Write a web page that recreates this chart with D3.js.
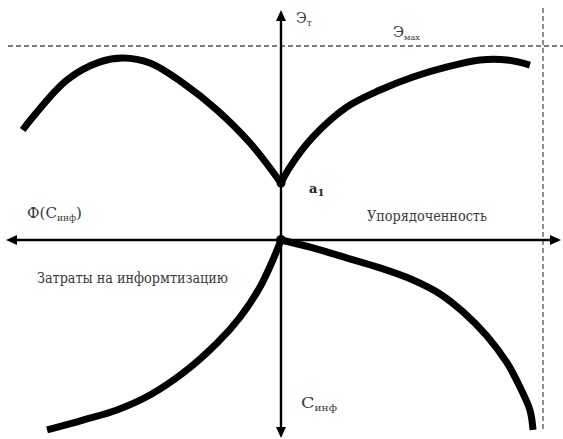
<!DOCTYPE html>
<html>
<head>
<meta charset="utf-8">
<script src="https://cdn.jsdelivr.net/npm/d3@7"></script>
<style>
  html, body { margin: 0; padding: 0; background: #fff; }
  svg { display: block; }
</style>
</head>
<body>
<svg id="chart" width="563" height="439"></svg>
<script>
// Efficiency curve, left branch (Ф(Синф)), x < 0
const effLeftX = [-9.86, -9.47, -8.17, -6.91, -6.03, -5.0, -3.74, -2.44, -1.18, 0];
const effLeftY = [5.67, 6.34, 8.25, 9.18, 9.38, 9.12, 8.09, 6.70, 5.0, 2.94];
// Efficiency curve, right branch (ordering), x > 0
const effRightX = [0, 0.34, 1.22, 2.52, 3.78, 5.04, 6.34, 7.60, 8.63, 9.50];
const effRightY = [2.94, 3.76, 5.31, 6.86, 7.73, 8.40, 8.92, 9.28, 9.28, 9.02];
// Cost curve, right branch
const costRightX = [0, 1.22, 2.52, 3.78, 5.04, 6.07, 6.95, 7.86, 8.63, 9.12, 9.50, 9.62];
const costRightY = [0, -0.41, -0.93, -1.44, -2.06, -2.78, -3.71, -4.95, -6.34, -7.58, -8.76, -9.79];
// Cost curve, left branch (informatization expenses)
const costLeftX = [-8.93, -7.56, -6.26, -5.0, -3.74, -2.44, -1.56, -0.80, -0.31, 0];
const costLeftY = [-9.79, -9.28, -8.76, -7.99, -6.86, -5.31, -3.97, -2.42, -1.03, 0];
// Reference levels
const effMax = 10;    // Эмах
const orderMax = 10;  // limit of ordering
const a1 = 2.94;      // point a1 on the vertical axis

const FONT = "'DejaVu Serif', serif";

const svg = d3.select("#chart");
const x = d3.scaleLinear().domain([-10, 10]).range([19, 543]);
const y = d3.scaleLinear().domain([-10, 10]).range([434, 46]);

const zip = (xs, ys) => xs.map((v, i) => [v, ys[i]]);
const line = d3.line().x(d => x(d[0])).y(d => y(d[1])).curve(d3.curveCatmullRom.alpha(0.5));

// dashed limits
svg.append("line")
  .attr("x1", 8).attr("x2", 563).attr("y1", y(effMax)).attr("y2", y(effMax))
  .attr("stroke", "#555").attr("stroke-width", 1.3).attr("stroke-dasharray", "5,3");
svg.append("line")
  .attr("x1", x(orderMax)).attr("x2", x(orderMax)).attr("y1", 8).attr("y2", 432)
  .attr("stroke", "#555").attr("stroke-width", 1.3).attr("stroke-dasharray", "5,3");

// axes
const ox = x(0), oy = y(0);
const axisG = svg.append("g");
axisG.append("line").attr("x1", 14).attr("x2", 554).attr("y1", oy).attr("y2", oy)
  .attr("stroke", "#000").attr("stroke-width", 2.4);
axisG.append("line").attr("x1", ox).attr("x2", ox).attr("y1", 18).attr("y2", 430)
  .attr("stroke", "#000").attr("stroke-width", 2.4);

function arrow(px, py, angle) {
  axisG.append("path")
    .attr("d", "M0,0 L-11,-5 L-11,5 Z")
    .attr("transform", `translate(${px},${py}) rotate(${angle})`)
    .attr("fill", "#000");
}
arrow(561, oy, 0);
arrow(6, oy, 180);
arrow(ox, 10, -90);
arrow(ox, 438, 90);

// curves
const curves = [zip(effLeftX, effLeftY), zip(effRightX, effRightY),
                zip(costRightX, costRightY), zip(costLeftX, costLeftY)];
svg.append("g").selectAll("path").data(curves).join("path")
  .attr("d", line)
  .attr("fill", "none").attr("stroke", "#000").attr("stroke-width", 7)
  .attr("stroke-linejoin", "round").attr("stroke-linecap", "butt");

// points
svg.append("circle").attr("cx", x(0)).attr("cy", y(a1)).attr("r", 4.5).attr("fill", "#000");
svg.append("circle").attr("cx", x(0)).attr("cy", y(0)).attr("r", 5).attr("fill", "#000");

// labels
function label(px, py, main, sub, opts = {}) {
  const t = svg.append("text").attr("x", px).attr("y", py)
    .attr("font-family", FONT)
    .attr("fill", opts.color || "#3a3a3a")
    .attr("font-size", opts.size || 15);
  if (opts.bold) t.attr("font-weight", "bold");
  if (opts.len) t.attr("textLength", opts.len).attr("lengthAdjust", "spacingAndGlyphs");
  t.append("tspan").text(main);
  if (sub) {
    t.append("tspan").attr("font-size", opts.subSize || 9).attr("dy", 3).text(sub);
  }
  if (opts.after) t.append("tspan").attr("dy", -3).text(opts.after);
  return t;
}
label(296, 23, "Э", "т", { size: 14 });
label(393, 37, "Э", "мах", { size: 14, subSize: 8, len: 27 });
label(309, 193, "a", "1", { bold: true, size: 13, subSize: 10, color: "#222" });
label(27, 218, "Ф(С", "инф", { after: ")", len: 55 });
label(367, 221, "Упорядоченность", null, { len: 120 });
label(37, 283, "Затраты на информтизацию", null, { len: 191 });
label(301, 408, "С", "инф", { len: 36 });
</script>
</body>
</html>
